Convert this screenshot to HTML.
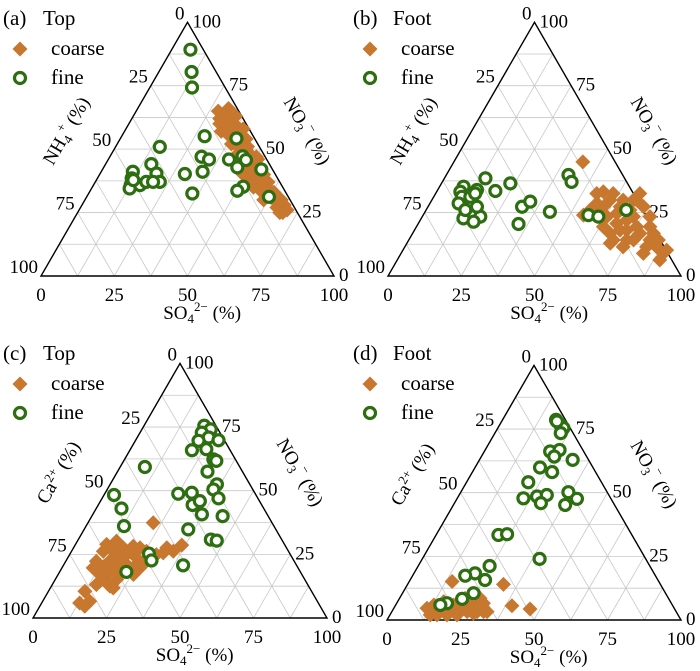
<!DOCTYPE html>
<html><head><meta charset="utf-8"><style>
html,body{margin:0;padding:0;background:#fff;}
svg{display:block;font-family:"Liberation Serif",serif;}
</style></head><body>
<svg id="chart" width="700" height="671" viewBox="0 0 700 671"></svg>
<script>
// ---- data: [SO4 %, NO3 %] pairs (third component = 100 - sum) ----
const tickValues = [0, 25, 50, 75, 100];
const gridSteps = [12.5, 25, 37.5, 50, 62.5, 75, 87.5];

const aFineSO4 = [6.4,11.2,14.4,28.3,15.1,15.6,10.8,11.7,12.7,13.0,15.9,17.4,19.2,22.0,19.7,29.0,31.3,34.4,34.6,35.4,41.2,39.6,45.2,47.1,45.6,54.2,51.4,50.2,62.2,12.6];
const aFineNO3 = [89.2,80.4,74.3,55.1,50.9,44.1,41.1,38.5,35.8,34.5,35.8,37.1,40.4,37.1,37.1,40.2,47.0,45.9,41.1,32.5,45.9,54.2,47.2,45.7,42.8,42.0,35.2,33.6,31.2,37.8];
const aCoarseSO4 = [31,31,30,33,31,37,35,33,39,37,43,41,39,45,43,46,43,50,48,45,51,49,54,52,49,56,53,59,57,55,61,59,64,63,61,66,69,67,70,70,28,33,33,36,38,41,44,47,50,52,56,58,61,64,66,68,71,35,40,45,51,57,63,67,69];
const aCoarseNO3 = [66,64,62,61,60,59,58,57,56,55,54,53,52,51,50,49,48,47,46,45,44,43,42,41,40,39,38,37,36,35,34,33,32,31,30,29,28,27,26,25,65,60,62,60,57,54,51,48,45,42,40,36,34,31,29,27,26,63,58,50,46,38,33,30,25];

const bFineSO4 = [8.2,8.1,9.6,9.8,14.4,14.0,13.4,14.0,19.8,18.5,16.7,19.9,23.5,32.1,33.9,34.3,42.6,41.7,44.1,56.4,60.1,68.3,12.5,13.4,13.5];
const bFineNO3 = [35.2,33.2,31.2,28.6,22.7,29.3,33.9,38.5,23.4,21.4,27.3,33.5,36.5,27.3,29.3,20.5,25.3,39.8,37.1,24.0,23.4,26.0,31.2,26.0,32.5];
const bCoarseSO4 = [44.0,56.9,60.6,68.8,54.7,57.0,63.0,67.7,67.4,72.4,72.1,73.6,77.6,82.3,85.9,89.5,89.6,82.7,76.7,74.5,63.8,65.6,79.7,69.9,69.4,70.1,55.0,65.3,59.9,56.0,60.8,69.6,70.5,69.8,75.2,82.2,82.5,90.0,74.4,65.8,69.7,77.7,85.2];
const bCoarseNO3 = [45.0,33.2,32.5,29.9,24.0,28.6,23.4,20.7,16.8,18.1,23.4,27.3,16.8,14.2,11.5,8.9,6.3,8.9,14.2,11.5,19.4,27.3,19.4,29.9,12.9,18.1,32.5,29.9,27.3,26.0,29.9,26.0,22.0,14.2,19.4,16.8,11.5,10.2,14.2,24.7,32.5,23.4,14.2];

const cFineSO4 = [20.5,23.4,21.0,24.3,28.2,21.1,25.8,30.2,31.5,30.6,8.4,36.3,36.1,39.6,25.0,29.4,32.1,33.8,37.1,44.5,3.4,8.6,12.9,35.4,45.1,47.3,26.8,29.0,40.7,22.7,21.5];
const cFineNO3 = [75.5,74.1,72.8,70.9,69.8,65.9,66.3,62.3,61.7,57.5,59.3,52.5,50.5,47.0,48.8,49.2,44.4,45.9,40.7,40.0,48.3,43.0,36.1,34.8,30.8,30.4,25.3,22.6,20.7,18.1,69.6];
const cCoarseSO4 = [22.2,36.3,34.6,31.5,29.5,20.0,16.9,14.2,14.9,12.8,16.5,20.9,21.3,23.4,19.6,26.5,25.6,19.9,15.5,10.4,15.9,12.4,12.9,16.0,15.3,27.4,10.8,14.0,16.1,18.9,19.9,22.6,16.9,21.0,23.1,14.2,10.6,17.8,24.7,25.5,31.7,15.0,21.4,10.6,13.3];
const cCoarseNO3 = [37.4,28.6,26.2,25.6,24.9,28.2,27.6,26.2,22.3,19.7,17.1,15.1,21.0,23.6,19.7,19.7,17.1,12.5,14.4,22.3,24.9,10.5,5.9,6.6,4.6,22.3,26.2,19.7,22.3,23.6,26.2,27.6,18.4,17.1,19.7,17.1,19.7,14.4,21.0,26.2,27.6,13.1,11.8,28.9,30.2];

const dFineSO4 = [18.2,20.6,22.3,22.4,22.4,25.3,24.8,31.7,22.1,27.1,21.0,22.5,26.8,29.8,29.4,36.6,40.8,38.0,21.2,24.0,39.9,24.3,20.8,17.9,25.5,24.2,21.4,17.1,15.2,18.8];
const dFineNO3 = [78.6,76.7,75.4,73.4,66.2,66.8,64.2,62.9,59.9,58.1,54.1,47.8,48.5,49.1,45.9,50.2,47.6,45.2,33.4,33.7,24.0,21.2,18.3,17.4,15.7,10.5,8.3,6.6,5.9,78.0];
const dCoarseSO4 = [14.6,32.6,39.7,46.5,13.0,16.0,19.9,22.6,23.6,27.7,31.2,28.1,17.0,22.8,27.4,13.1,25.6,11.3,15.0,19.4,22.2,23.4,26.0,29.0,19.7,15.7,22.3,29.5,32.4,13.7];
const dCoarseNO3 = [15.1,14.0,5.6,4.3,5.9,2.0,3.3,4.6,7.2,5.9,3.3,2.6,4.6,2.0,8.5,3.3,3.3,4.6,3.9,2.0,3.3,5.2,4.6,3.3,5.9,7.2,8.5,6.6,3.3,2.0];

const NS = "http://www.w3.org/2000/svg";
const svg = document.getElementById('chart');
const COARSE = "#c8772f", FINE = "#2d6e10";
const DR = 7.5, CR = 5.5;

function mk(tag, attrs, parent) {
  const e = document.createElementNS(NS, tag);
  for (const k in attrs) e.setAttribute(k, attrs[k]);
  (parent || svg).appendChild(e);
  return e;
}

const panels = [
  {id:'a', L:41, B:276, W:293, tag:'(a)', site:'Top', cat:'NH', fineS:aFineSO4, fineN:aFineNO3, coarseS:aCoarseSO4, coarseN:aCoarseNO3, legY:0},
  {id:'b', L:388, B:276, W:293, tag:'(b)', site:'Foot', cat:'NH', fineS:bFineSO4, fineN:bFineNO3, coarseS:bCoarseSO4, coarseN:bCoarseNO3, legY:0},
  {id:'c', L:33, B:618, W:294, tag:'(c)', site:'Top', cat:'Ca', fineS:cFineSO4, fineN:cFineNO3, coarseS:cCoarseSO4, coarseN:cCoarseNO3, legY:335},
  {id:'d', L:387, B:620, W:294, tag:'(d)', site:'Foot', cat:'Ca', fineS:dFineSO4, fineN:dFineNO3, coarseS:dCoarseSO4, coarseN:dCoarseNO3, legY:335}
];

panels.forEach(p => {
  const H = p.W * 0.866;
  const g = mk('g', {});
  
  
  const px = (s, n) => p.L + p.W * (s + n / 2) / 100;
  const py = (s, n) => p.B - H * n / 100;

  const grid = mk('g', {stroke:'#c8c8c8', 'stroke-width':0.8, fill:'none'}, g);
  
  
  gridSteps.forEach(v => {
    mk('line', {x1:px(0,v), y1:py(0,v), x2:px(100-v,v), y2:py(100-v,v)}, grid);
    mk('line', {x1:px(v,0), y1:py(v,0), x2:px(v,100-v), y2:py(v,100-v)}, grid);
    mk('line', {x1:px(100-v,0), y1:py(100-v,0), x2:px(0,100-v), y2:py(0,100-v)}, grid);
  });

  const tri = mk('polygon', {points:`${px(0,0)},${py(0,0)} ${px(100,0)},${py(100,0)} ${px(0,100)},${py(0,100)}`, fill:'none', stroke:'#000', 'stroke-width':1.4}, g);
  
  

  tickValues.forEach(v => {
    const tb = mk('text', {x:px(v,0), y:p.B+25, 'text-anchor':'middle', 'font-size':19}, g);
    tb.textContent = v;
    
    
    const n = 100 - v;
    const tl = mk('text', {x:px(0,n)-3, y:py(0,n)-3, 'text-anchor':'end', 'font-size':19}, g);
    tl.textContent = v;
    
    
    const tr = mk('text', {x:px(100-v,v)+5, y:py(100-v,v)+5, 'text-anchor':'start', 'font-size':19}, g);
    tr.textContent = v;
    
    
  });

  const bt = mk('text', {x:p.L+p.W*0.55, y:p.B+43, 'text-anchor':'middle', 'font-size':19}, g);
  bt.innerHTML = 'SO<tspan font-size="13" dy="4">4</tspan><tspan font-size="13" dy="-12">2−</tspan><tspan dy="8"> (%)</tspan>';
  
  

  const lx = p.L + p.W*0.125 - 6, ly = p.B - H*0.56;
  const lt = mk('text', {x:lx, y:ly, 'text-anchor':'middle', 'font-size':19, transform:`rotate(-60 ${lx} ${ly})`}, g);
  if (p.cat === 'NH') lt.innerHTML = 'NH<tspan font-size="13" dy="4">4</tspan><tspan font-size="13" dy="-12">+</tspan><tspan dy="8"> (%)</tspan>';
  else lt.innerHTML = 'Ca<tspan font-size="13" dy="-7">2+</tspan><tspan dy="7"> (%)</tspan>';
  
  

  const rx = p.L + p.W*0.89, ry = p.B - H*0.56;
  const rt = mk('text', {x:rx, y:ry, 'text-anchor':'middle', 'font-size':19, transform:`rotate(60 ${rx} ${ry})`}, g);
  rt.innerHTML = 'NO<tspan font-size="13" dy="4">3</tspan><tspan font-size="13" dy="-12">−</tspan><tspan dy="8"> (%)</tspan>';
  
  

  const cg = mk('g', {fill:COARSE}, g);
  
  
  p.coarseS.forEach((s, i) => {
    const x = px(s, p.coarseN[i]), y = py(s, p.coarseN[i]);
    const d = mk('polygon', {points:`${x},${y-DR} ${x+DR},${y} ${x},${y+DR} ${x-DR},${y}`}, cg);
    
    
  });
  const fg = mk('g', {fill:'#fff', stroke:FINE, 'stroke-width':3.2}, g);
  
  
  p.fineS.forEach((s, i) => {
    const c = mk('circle', {cx:px(s, p.fineN[i]), cy:py(s, p.fineN[i]), r:CR}, fg);
    
    
  });

  const lgx = p.L < 100 ? 3 : 353;
  const leg = mk('g', {}, g);
  
  
  const t1 = mk('text', {x:lgx, y:p.legY+25, 'font-size':21}, leg);
  t1.textContent = p.tag;
  
  
  const t2 = mk('text', {x:lgx+40, y:p.legY+25, 'font-size':21}, leg);
  t2.textContent = p.site;
  
  
  const dx = lgx + 17, dy = p.legY + 49;
  const ld = mk('polygon', {points:`${dx},${dy-DR} ${dx+DR},${dy} ${dx},${dy+DR} ${dx-DR},${dy}`, fill:COARSE}, leg);
  
  
  const t3 = mk('text', {x:lgx+48, y:p.legY+55, 'font-size':21}, leg);
  t3.textContent = 'coarse';
  
  
  const lc = mk('circle', {cx:lgx+17, cy:p.legY+78, r:CR, fill:'#fff', stroke:FINE, 'stroke-width':3.2}, leg);
  
  
  const t4 = mk('text', {x:lgx+48, y:p.legY+84, 'font-size':21}, leg);
  t4.textContent = 'fine';
  
  
});
</script>
</body></html>
